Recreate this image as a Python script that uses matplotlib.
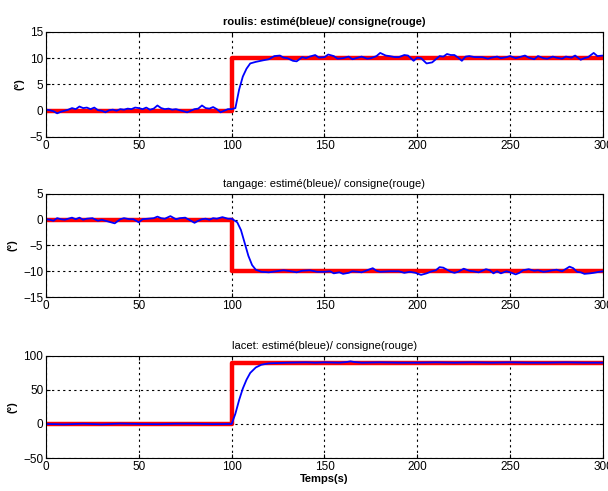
import matplotlib.pyplot as plt

plt.rcParams['font.family'] = ['Liberation Sans', 'DejaVu Sans']
plt.rcParams['font.size'] = 8

# roulis: estimated angle
t_roulis = [0, 2, 4, 6, 8, 10, 12, 14, 16, 18, 20, 22, 24, 26, 28, 30, 32, 34,
            36, 38, 40, 42, 44, 46, 48, 50, 52, 54, 56, 58, 60, 62, 64, 66, 68,
            70, 72, 74, 76, 78, 80, 82, 84, 86, 88, 90, 92, 94, 96, 98, 100, 102,
            104, 106, 108, 110, 113, 117, 120, 123, 126, 128, 130, 133, 135, 138,
            140, 142, 145, 147, 150, 152, 155, 157, 160, 163, 165, 168, 170, 173,
            175, 178, 180, 183, 185, 188, 190, 193, 195, 198, 200, 202, 205, 208,
            210, 212, 214, 216, 218, 220, 222, 224, 226, 228, 231, 235, 238, 240,
            243, 245, 248, 250, 253, 255, 258, 260, 263, 265, 268, 270, 273, 275,
            278, 280, 283, 285, 288, 290, 292, 295, 297, 300]
y_roulis = [0.2, 0.1, -0.1, -0.5, -0.2, 0.0, 0.2, 0.5, 0.3, 0.8, 0.5, 0.6, 0.3,
            0.6, 0.1, 0.0, -0.3, 0.1, 0.2, 0.0, 0.3, 0.2, 0.4, 0.3, 0.6, 0.5, 0.3,
            0.6, 0.2, 0.4, 1.0, 0.5, 0.3, 0.4, 0.2, 0.3, 0.1, -0.1, -0.3, 0.0, 0.3,
            0.4, 1.0, 0.5, 0.4, 0.7, 0.3, -0.3, 0.0, 0.3, 0.3, 0.5, 4.0, 6.5, 8.0,
            9.0, 9.3, 9.6, 9.8, 10.4, 10.5, 10.1, 10.0, 9.5, 9.4, 10.2, 10.0, 10.3,
            10.6, 10.1, 10.2, 10.7, 10.4, 9.9, 10.0, 10.3, 9.8, 10.1, 10.3, 9.9,
            10.0, 10.4, 11.0, 10.5, 10.4, 10.2, 10.2, 10.6, 10.5, 9.5, 10.1, 10.0,
            9.0, 9.2, 9.8, 10.4, 10.3, 10.8, 10.6, 10.6, 10.1, 9.5, 10.3, 10.4,
            10.2, 10.2, 9.9, 10.1, 10.3, 10.0, 10.2, 10.4, 10.0, 10.2, 10.5, 10.1,
            9.8, 10.4, 10.0, 9.9, 10.3, 10.1, 9.9, 10.3, 10.1, 10.5, 9.7, 10.0,
            10.2, 11.0, 10.4, 10.5]

# tangage: estimated angle
t_tangage = [0, 2, 4, 6, 8, 10, 12, 14, 16, 18, 20, 22, 25, 28, 30, 33, 37, 40,
             42, 45, 47, 50, 52, 55, 58, 60, 62, 64, 67, 70, 72, 75, 78, 80, 82,
             84, 86, 88, 90, 92, 95, 98, 100, 103, 105, 107, 109, 111, 113, 116,
             120, 124, 128, 132, 135, 138, 142, 146, 150, 153, 155, 158, 160, 163,
             165, 168, 170, 173, 176, 178, 180, 185, 190, 193, 196, 199, 202, 205,
             207, 210, 212, 214, 216, 218, 220, 222, 225, 228, 230, 233, 237, 239,
             241, 243, 245, 248, 250, 253, 255, 257, 260, 263, 265, 268, 270, 273,
             275, 278, 282, 284, 286, 288, 290, 293, 295, 298, 300]
y_tangage = [0.1, 0.0, -0.2, 0.3, 0.1, 0.0, 0.2, 0.4, 0.1, 0.4, 0.0, 0.2, 0.3,
             -0.2, 0.0, -0.3, -0.7, 0.1, 0.3, 0.1, 0.1, -0.5, 0.1, 0.2, 0.3, 0.6,
             0.3, 0.2, 0.7, 0.1, 0.3, 0.4, -0.2, -0.6, -0.2, 0.1, 0.2, 0.0, 0.3,
             0.2, 0.5, 0.2, 0.2, -0.5, -2.0, -4.5, -7.0, -8.8, -9.7, -10.1, -10.2,
             -10.0, -9.8, -10.0, -10.2, -9.9, -9.8, -10.1, -10.1, -10.0, -10.4,
             -10.2, -10.5, -10.3, -10.0, -10.1, -10.2, -9.8, -9.4, -9.9, -10.1,
             -10.0, -10.0, -10.3, -10.1, -10.3, -10.7, -10.4, -10.1, -9.8, -9.2,
             -9.3, -9.7, -10.1, -10.3, -10.1, -9.5, -9.9, -10.0, -10.2, -9.6,
             -9.8, -10.4, -10.0, -10.4, -10.0, -10.2, -10.6, -10.3, -9.8, -9.6,
             -9.9, -9.8, -10.1, -10.0, -9.8, -9.7, -10.0, -9.1, -9.4, -10.1,
             -10.2, -10.5, -10.4, -10.3, -10.1, -10.0]

# lacet: estimated angle
t_lacet = [0, 10, 20, 30, 40, 50, 60, 70, 80, 90, 99, 100, 102, 104, 106, 108, 110,
           113, 116, 120, 130, 140, 145, 150, 158, 162, 164, 166, 170, 180, 190,
           200, 210, 220, 230, 240, 250, 260, 270, 280, 290, 300]
y_lacet = [0.0, -0.5, 0.3, -0.5, 0.5, 0.0, -0.3, 0.3, 0.3, -0.2, 0.0, 0.0, 15.0,
           35.0, 52.0, 65.0, 75.0, 83.0, 87.0, 89.0, 90.0, 90.5, 90.0, 90.5, 90.0,
           91.0, 92.0, 91.0, 90.0, 90.5, 90.0, 90.0, 90.5, 90.0, 90.5, 90.0, 90.5,
           90.0, 90.0, 90.5, 90.0, 90.0]

# setpoints (step at t = 100 s)
t_consigne = [0, 100, 100, 300]
c_roulis = [0, 0, 10, 10]
c_tangage = [0, 0, -10, -10]
c_lacet = [0, 0, 90, 90]

titles = ['roulis: estimé(bleue)/ consigne(rouge)',
          'tangage: estimé(bleue)/ consigne(rouge)',
          'lacet: estimé(bleue)/ consigne(rouge)']
yticks = [[-5, 0, 5, 10, 15], [-15, -10, -5, 0, 5], [-50, 0, 50, 100]]
xticks = [0, 50, 100, 150, 200, 250, 300]

fig = plt.figure(figsize=(6.08, 4.91), dpi=100)
boxes = [[0.0757, 0.721, 0.916, 0.214],
         [0.0757, 0.395, 0.916, 0.210],
         [0.0757, 0.0672, 0.916, 0.208]]
series = [(t_roulis, y_roulis, c_roulis),
          (t_tangage, y_tangage, c_tangage),
          (t_lacet, y_lacet, c_lacet)]

for i in range(3):
    ax = fig.add_axes(boxes[i])
    t, y, c = series[i]
    ax.plot(t_consigne, c, color='#ff0000', linewidth=3.2)
    ax.plot(t, y, color='#0000ff', linewidth=1.3)
    ax.set_xlim(0, 300)
    ax.set_ylim(yticks[i][0], yticks[i][-1])
    ax.set_xticks(xticks)
    ax.set_yticks(yticks[i])
    ax.grid(True, color='black', linestyle=(0, (2, 3)), linewidth=0.8)
    ax.tick_params(direction='in', length=3, top=True, right=True, pad=2,
                   labelsize=8.5)
    ax.set_ylabel('(°)', fontweight='bold', labelpad=4)
    ax.set_title(titles[i], fontsize=8, fontweight='bold' if i == 0 else 'normal', pad=5)
    for s in ax.spines.values():
        s.set_linewidth(0.8)

ax.set_xlabel('Temps(s)', fontweight='bold', labelpad=1)

plt.savefig('out.png', dpi=100)
